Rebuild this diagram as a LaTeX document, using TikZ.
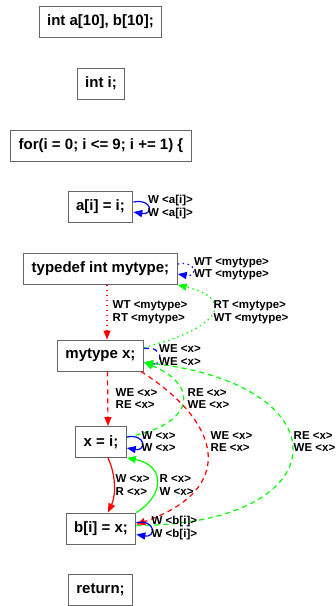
\documentclass[tikz,border=0pt]{standalone}
\usepackage{fontspec}
\setmainfont{Liberation Sans}
\usetikzlibrary{arrows.meta}

\begin{document}
\begin{tikzpicture}
[
x=1pt,y=-1pt,
stmt/.style={draw=black!60,line width=0.9pt,minimum height=31pt,inner xsep=8pt,inner ysep=0pt,
            font=\fontsize{15}{18}\selectfont\bfseries},
elabel/.style={anchor=west,inner sep=0pt,align=left,font=\fontsize{11.5}{12.5}\selectfont\bfseries},
dependence/.style={line width=1.2pt,-{Triangle[length=9pt,width=7pt]}},
selfloop/.style={dependence,out=10,in=-10,distance=20pt},
dotted edge/.style={dash pattern=on 1.5pt off 3.5pt},
dashed edge/.style={dash pattern=on 5pt off 4pt},
]
\useasboundingbox (0,0) rectangle (336,606);

%Place the nodes
\node[stmt] (decl) at (100.5,21.5) {int a[10], b[10];};
\node[stmt] (inti) at (101,83.5) {int i;};
\node[stmt] (forl) at (101,145.5) {for(i = 0; i <= 9; i += 1) \{};
\node[stmt] (assa) at (100.5,207) {a[i] = i;};
\node[stmt] (tdef) at (100.5,269) {typedef int mytype;};
\node[stmt] (mx) at (100.5,355.5) {mytype x;};
\node[stmt] (xi) at (101,442) {x = i;};
\node[stmt] (bx) at (101,528.5) {b[i] = x;};
\node[stmt] (ret) at (100.5,590) {return;};

%Draw the connections
\draw[selfloop,blue] ([yshift=5pt]assa.east) to ([yshift=-5pt]assa.east);
\draw[selfloop,blue,dotted edge] ([yshift=5pt]tdef.east) to ([yshift=-5pt]tdef.east);
\draw[dependence,red,dotted edge] ([xshift=6.5pt]tdef.south) -- ([xshift=6.5pt]mx.north);
\draw[dependence,green,dotted edge] ([yshift=8pt]mx.east) .. controls (215,330) and (240,300) .. (tdef.south east);
\draw[selfloop,blue,dashed edge] ([yshift=7pt]mx.east) to ([yshift=-7pt]mx.east);
\draw[dependence,red,dashed edge] ([xshift=7pt]mx.south) -- ([xshift=7pt]xi.north);
\draw[dependence,green,dashed edge] ([yshift=5pt]xi.east) .. controls (195,425) and (200,385) .. ([yshift=-7pt]mx.east);
\draw[selfloop,blue] ([yshift=5pt]xi.east) to ([yshift=-6pt]xi.east);
\draw[dependence,red] ([xshift=7pt]xi.south) .. controls (116,475) and (116,495) .. ([xshift=7pt]bx.north);
\draw[dependence,green] (bx.north east) .. controls (165,495) and (165,465) .. (xi.south east);
\draw[dependence,red,dashed edge] ([xshift=-3pt]mx.south east) .. controls (225,425) and (235,490) .. ([yshift=4pt]bx.east);
\draw[dependence,green,dashed edge] ([yshift=3pt]bx.east) .. controls (340,525) and (345,385) .. ([yshift=-7pt]mx.east);
\draw[selfloop,blue] ([yshift=6pt]bx.east) to ([yshift=-6pt]bx.east);

%Edge labels
\node[elabel] (assaloop) at (148,207) {W <a[i]>\\W <a[i]>};
\node[elabel] (tdefloop) at (194,268.5) {WT <mytype>\\WT <mytype>};
\node[elabel] (tdefmx) at (112.5,312) {WT <mytype>\\RT <mytype>};
\node[elabel] (mxtdef) at (213.5,312) {RT <mytype>\\WT <mytype>};
\node[elabel] (mxloop) at (159,355) {WE <x>\\WE <x>};
\node[elabel] (mxxi) at (115.5,398.5) {WE <x>\\RE <x>};
\node[elabel] (ximx) at (187.5,398.5) {RE <x>\\WE <x>};
\node[elabel] (xiloop) at (141.5,441.5) {W <x>\\W <x>};
\node[elabel] (mxbx) at (210.5,441.5) {WE <x>\\RE <x>};
\node[elabel] (bxmx) at (293.5,441.5) {RE <x>\\WE <x>};
\node[elabel] (xibx) at (115.5,485) {W <x>\\R <x>};
\node[elabel] (bxxi) at (159.5,485) {R <x>\\W <x>};
\node[elabel] (bxloop) at (151.5,528) {W <b[i]>\\W <b[i]>};
\end{tikzpicture}
\end{document}
